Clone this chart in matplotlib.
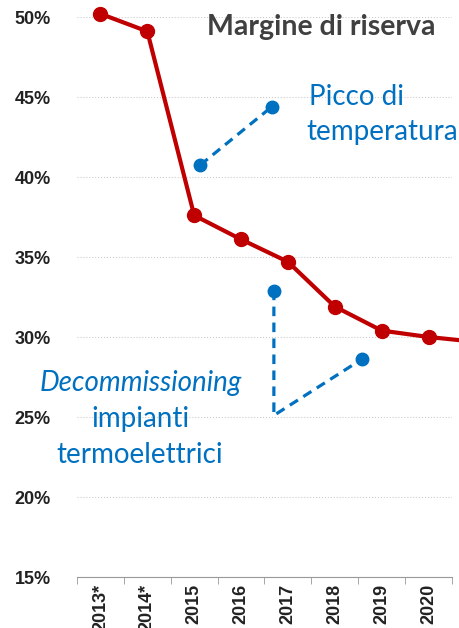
import matplotlib
matplotlib.use("Agg")
import matplotlib.pyplot as plt

# data
years = ["2013*", "2014*", "2015", "2016", "2017", "2018", "2019", "2020"]
margin = [50.2, 49.1, 37.6, 36.1, 34.7, 31.9, 30.4, 30.0]
margin_next = 29.7          # line runs off the right edge
yticks = [15, 20, 25, 30, 35, 40, 45, 50]

# annotation call-outs (x in category units, y in %)
peak_x, peak_y = [2.13, 3.66], [40.75, 44.4]
dec_x, dec_y = [3.70, 3.70, 5.57], [32.9, 25.1, 28.6]

RED, BLUE, GREY = "#C00000", "#0070C0", "#404040"
FONT = "Lato"

fig = plt.figure(figsize=(4.6, 6.28), dpi=100)
ax = fig.add_axes([77/460, 1-577/628, 375/460, 560/628])

xs = list(range(len(years)))
ax.plot(xs + [len(years)], margin + [margin_next], "-", color=RED, lw=3, clip_on=False, zorder=3)
ax.plot(xs, margin, "o", color=RED, ms=10, clip_on=False, zorder=4)

ax.plot(peak_x, peak_y, "--", color=BLUE, lw=2.3, dashes=(3, 2), zorder=5)
ax.plot(peak_x, peak_y, "o", color=BLUE, ms=9, zorder=6)
ax.plot(dec_x, dec_y, "--", color=BLUE, lw=2.3, dashes=(3, 2), zorder=5)
ax.plot([dec_x[0], dec_x[2]], [dec_y[0], dec_y[2]], "o", color=BLUE, ms=9, zorder=6)

ax.set_xlim(-0.5, len(years) - 0.5)
ax.set_ylim(15, 50)
ax.set_yticks(yticks)
ax.set_yticklabels([f"{v}%" for v in yticks], fontsize=13, fontweight="bold",
                   family="Liberation Sans", color="#222222")
ax.set_xticks(xs)
ax.set_xticklabels(years, rotation=90, fontsize=13, fontweight="bold",
                   family="Liberation Sans", color="#222222", va="top")
ax.set_xticks([x - 0.5 for x in range(len(years) + 1)], minor=True)
ax.tick_params(axis="x", which="major", length=0, pad=5)
ax.tick_params(axis="x", which="minor", length=5, color="#999999")
ax.tick_params(axis="y", length=0, pad=19)
ax.grid(axis="y", color="#cccccc", ls=":", lw=0.8)
for s in ["left", "right", "top"]:
    ax.spines[s].set_visible(False)
ax.spines["bottom"].set_color("#999999")
ax.set_axisbelow(True)

ax.text(4.72, 49.4, "Margine di riserva", fontsize=20.5, fontweight="bold",
        color=GREY, ha="center", va="center", family=FONT)
ax.text(4.45, 45.0, "Picco di", fontsize=20, color=BLUE, ha="left", va="center", family=FONT)
ax.text(4.40, 42.8, "temperatura", fontsize=20, color=BLUE, ha="left", va="center", family=FONT)
ax.text(0.85, 27.1, "Decommissioning", fontsize=20, color=BLUE, style="italic",
        ha="center", va="center", family=FONT)
ax.text(0.85, 24.9, "impianti", fontsize=20, color=BLUE, ha="center", va="center", family=FONT)
ax.text(0.83, 22.6, "termoelettrici", fontsize=20, color=BLUE, ha="center", va="center", family=FONT)

fig.savefig("out.png", dpi=100)
